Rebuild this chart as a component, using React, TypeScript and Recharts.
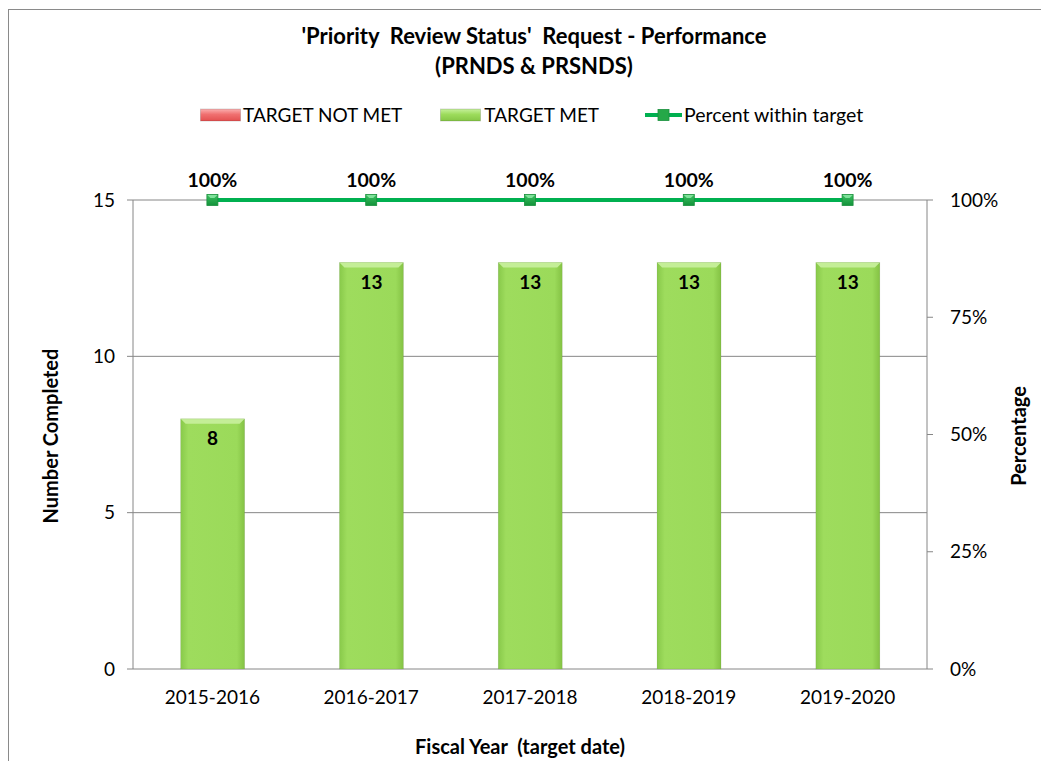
import React from "react"
import {
  Bar,
  CartesianGrid,
  ComposedChart,
  LabelList,
  Line,
  XAxis,
  YAxis,
} from "recharts"

const years = ["2015-2016", "2016-2017", "2017-2018", "2018-2019", "2019-2020"]
const targetNotMet = [0, 0, 0, 0, 0]
const targetMet = [8, 13, 13, 13, 13]
const percentWithin = [1, 1, 1, 1, 1]

const countTicks = [0, 5, 10, 15]
const pctTicks = [0, 0.25, 0.5, 0.75, 1]

const chartData = years.map((year, i) => ({
  year,
  notMet: targetNotMet[i],
  met: targetMet[i],
  pct: percentWithin[i],
}))

const FONT = "Lato, 'Open Sans', sans-serif"
const AXIS_GRAY = "#868686"

// bar with a little bevel on top, like the office 3D preset
const bevelShape = (face: string, top: string) => (props: any) => {
  const { x, y, width, height } = props
  if (!height || height <= 0) return <g />
  const b = Math.min(5, height / 2)
  return (
    <g>
      <rect x={x} y={y} width={width} height={height} fill={`url(#${face})`} />
      <polygon
        points={`${x},${y} ${x + width},${y} ${x + width - b},${y + b} ${x + b},${y + b}`}
        fill={top}
      />
      <rect x={x} y={y} width={width} height={height} fill="none" stroke="rgba(0,0,0,0.12)" strokeWidth={0.6} />
    </g>
  )
}

const SquareDot = (props: any) => {
  const { cx, cy } = props
  if (cx == null || cy == null) return <g />
  return (
    <g>
      <rect x={cx - 5.5} y={cy - 5.5} width={11} height={11} fill="url(#dotFace)" stroke="#1a8f3c" strokeWidth={0.8} />
      <polygon points={`${cx - 5},${cy - 5} ${cx + 5},${cy - 5} ${cx + 2},${cy - 2} ${cx - 2},${cy - 2}`} fill="#7ee29a" />
    </g>
  )
}

const LegendSwatch = ({ from, mid, top }: { from: string; mid: string; top: string }) => (
  <svg width={41} height={14}>
    <defs>
      <linearGradient id={`sw-${mid.slice(1)}`} x1="0" y1="0" x2="0" y2="1">
        <stop offset="0%" stopColor={top} />
        <stop offset="45%" stopColor={mid} />
        <stop offset="100%" stopColor={from} />
      </linearGradient>
    </defs>
    <rect x={0.5} y={1} width={40} height={12} fill={`url(#sw-${mid.slice(1)})`} stroke="rgba(0,0,0,0.15)" />
  </svg>
)

export default function App() {
  return (
    <div
      style={{
        position: "relative",
        width: 1041,
        height: 751,
        marginTop: 1,
        borderTop: "1px solid #8a8a8a",
        borderLeft: "1px solid #8a8a8a",
        fontFamily: FONT,
        color: "#000",
        overflow: "hidden",
      }}
    >
      <div style={{ position: "absolute", top: 11, left: 0, width: 1050, textAlign: "center", fontWeight: 700, fontSize: 22, lineHeight: "30px" }}>
        <div>'Priority&nbsp; Review Status'&nbsp; Request - Performance</div>
        <div>(PRNDS &amp; PRSNDS)</div>
      </div>

      <div
        style={{
          position: "absolute",
          top: 93,
          left: 191,
          display: "flex",
          alignItems: "center",
          fontSize: 19,
          whiteSpace: "nowrap",
        }}
      >
        <LegendSwatch from="#e35050" mid="#f07070" top="#fbb0b0" />
        <span style={{ marginLeft: 2, marginRight: 38 }}>TARGET NOT MET</span>
        <LegendSwatch from="#86c646" mid="#9ddc5c" top="#c6f09c" />
        <span style={{ marginLeft: 3, marginRight: 46 }}>TARGET MET</span>
        <svg width={37} height={14}>
          <line x1={0} y1={7} x2={37} y2={7} stroke="#00b050" strokeWidth={4} />
          <rect x={13} y={1.5} width={11} height={11} fill="#25a848" stroke="#1a8f3c" strokeWidth={0.8} />
        </svg>
        <span style={{ marginLeft: 2, fontSize: 19.5 }}>Percent within target</span>
      </div>

      <div
        style={{
          position: "absolute",
          left: 41,
          top: 426,
          transform: "translate(-50%, -50%) rotate(-90deg)",
          fontWeight: 700,
          fontSize: 20,
          whiteSpace: "nowrap",
        }}
      >
        Number Completed
      </div>
      <div
        style={{
          position: "absolute",
          left: 1009,
          top: 426,
          transform: "translate(-50%, -50%) rotate(-90deg)",
          fontWeight: 700,
          fontSize: 20,
          whiteSpace: "nowrap",
        }}
      >
        Percentage
      </div>
      <div
        style={{
          position: "absolute",
          left: 0,
          width: 1022,
          top: 724,
          textAlign: "center",
          fontWeight: 700,
          fontSize: 20,
          whiteSpace: "pre",
        }}
      >
        {"Fiscal Year  (target date)"}
      </div>

      <div style={{ position: "absolute", left: 0, top: 0 }}>
        <ComposedChart
          width={1040}
          height={758}
          data={chartData}
          margin={{ top: 190, right: 62, left: 64, bottom: 59 }}
          barCategoryGap="30%"
        >
          <defs>
            <linearGradient id="greenFace" x1="0" y1="0" x2="1" y2="0">
              <stop offset="0%" stopColor="#88c94a" />
              <stop offset="12%" stopColor="#9edc5d" />
              <stop offset="88%" stopColor="#9bda5a" />
              <stop offset="100%" stopColor="#84c244" />
            </linearGradient>
            <linearGradient id="redFace" x1="0" y1="0" x2="1" y2="0">
              <stop offset="0%" stopColor="#e05050" />
              <stop offset="50%" stopColor="#f07070" />
              <stop offset="100%" stopColor="#e05050" />
            </linearGradient>
            <linearGradient id="dotFace" x1="0" y1="0" x2="0" y2="1">
              <stop offset="0%" stopColor="#3cc060" />
              <stop offset="100%" stopColor="#12923a" />
            </linearGradient>
          </defs>

          <CartesianGrid
            xAxisId="cat"
            yAxisId="left"
            vertical={false}
            stroke={AXIS_GRAY}
            strokeWidth={1}
          />

          {/* boundary ticks between the years */}
          <XAxis
            xAxisId="grid"
            type="number"
            domain={[0, 5]}
            ticks={[0, 1, 2, 3, 4, 5]}
            allowDataOverflow
            height={0}
            tickSize={6}
            tickFormatter={() => ""}
            axisLine={{ stroke: AXIS_GRAY }}
            tickLine={{ stroke: AXIS_GRAY }}
          />
          <XAxis
            xAxisId="cat"
            dataKey="year"
            height={40}
            axisLine={false}
            tickLine={false}
            tickSize={6}
            tickMargin={16}
            tick={{ fill: "#000", fontSize: 19, fontFamily: FONT }}
          />
          <YAxis
            yAxisId="left"
            domain={[0, 15]}
            ticks={countTicks}
            width={60}
            tickSize={6}
            tickMargin={12}
            axisLine={{ stroke: AXIS_GRAY }}
            tickLine={{ stroke: AXIS_GRAY }}
            tick={{ fill: "#000", fontSize: 19, fontFamily: FONT }}
          />
          <YAxis
            yAxisId="right"
            orientation="right"
            domain={[0, 1]}
            ticks={pctTicks}
            width={60}
            tickSize={6}
            tickMargin={17}
            tickFormatter={(v: number) => `${Math.round(v * 100)}%`}
            axisLine={{ stroke: AXIS_GRAY }}
            tickLine={{ stroke: AXIS_GRAY }}
            tick={{ fill: "#000", fontSize: 19, fontFamily: FONT, textAnchor: "start" }}
          />

          <Bar
            xAxisId="cat"
            yAxisId="left"
            dataKey="notMet"
            name="TARGET NOT MET"
            stackId="a"
            fill="#f07070"
            shape={bevelShape("redFace", "#fbb0b0")}
            isAnimationActive={false}
          />
          <Bar
            xAxisId="cat"
            yAxisId="left"
            dataKey="met"
            name="TARGET MET"
            stackId="a"
            fill="#9ddc5c"
            shape={bevelShape("greenFace", "#c4ee97")}
            isAnimationActive={false}
          >
            <LabelList
              dataKey="met"
              position="insideTop"
              offset={13}
              fill="#000"
              fontSize={19}
              fontWeight={700}
              fontFamily={FONT}
            />
          </Bar>
          <Line
            xAxisId="cat"
            yAxisId="right"
            dataKey="pct"
            name="Percent within target"
            type="linear"
            stroke="#00b050"
            strokeWidth={4}
            dot={<SquareDot />}
            activeDot={false}
            isAnimationActive={false}
          >
            <LabelList
              dataKey="pct"
              position="top"
              offset={13}
              formatter={(v: any) => `${Math.round(Number(v) * 100)}%`}
              fill="#000"
              fontSize={19.5}
              fontWeight={700}
              fontFamily={FONT}
            />
          </Line>
        </ComposedChart>
      </div>
    </div>
  )
}
